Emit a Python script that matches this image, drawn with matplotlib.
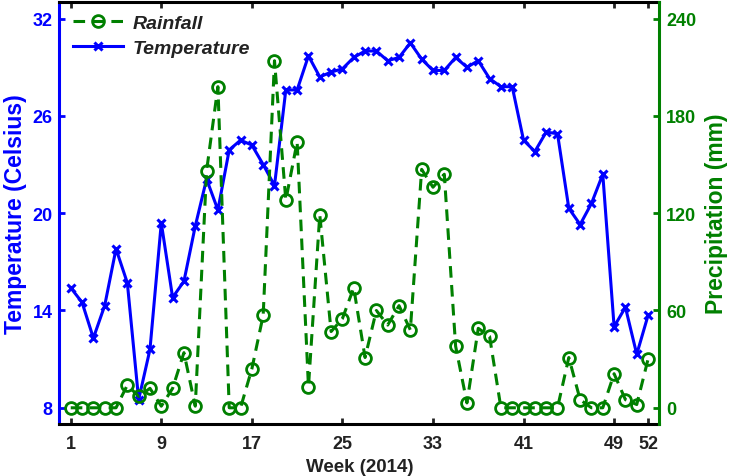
import matplotlib
matplotlib.use("Agg")
import matplotlib.pyplot as plt

plt.rcParams["font.family"] = ["Liberation Sans", "DejaVu Sans"]
plt.rcParams["font.weight"] = "bold"

weeks = list(range(1, 53))
temperature = [15.4, 14.5, 12.3, 14.3, 17.8, 15.7, 8.5, 11.6, 19.4, 14.8,
               15.8, 19.2, 22.1, 20.2, 23.9, 24.5, 24.2, 23.0, 21.7, 27.6,
               27.6, 29.7, 28.4, 28.7, 28.9, 29.6, 30.0, 30.0, 29.4, 29.6,
               30.5, 29.5, 28.8, 28.8, 29.6, 29.0, 29.4, 28.3, 27.8, 27.8,
               24.5, 23.8, 25.0, 24.9, 20.3, 19.3, 20.6, 22.4, 13.0, 14.2,
               11.3, 13.7]
rainfall = [0, 0, 0, 0, 0, 14, 7, 12, 1, 12,
            34, 1, 146, 198, 0, 0, 24, 57, 214, 128,
            164, 13, 119, 47, 55, 74, 31, 60, 51, 63,
            48, 147, 136, 144, 38, 3, 49, 44, 0, 0,
            0, 0, 0, 0, 31, 5, 0, 0, 21, 5,
            2, 30]

blue = (0, 0, 1)
green = (0, 0.5, 0)

fig = plt.figure(figsize=(7.29, 4.77), dpi=100)
ax = fig.add_axes([0.0815, 0.109, 0.823, 0.884])
ax2 = ax.twinx()

l1, = ax.plot(weeks, temperature, color=blue, lw=2.2, marker="x",
              ms=6, mew=2.2, label="Temperature")
l2, = ax2.plot(weeks, rainfall, color=green, lw=2.2, ls="--",
               dashes=(3.8, 2.4), marker="o", ms=8.5, mew=2,
               mfc="none", label="Rainfall")

ax.set_xlim(0, 53)
ax.set_ylim(7, 33)
ax2.set_ylim(-10, 250)
ax.set_xticks([1, 9, 17, 25, 33, 41, 49, 52])
ax.set_yticks([8, 14, 20, 26, 32])
ax2.set_yticks([0, 60, 120, 180, 240])

ax.tick_params(axis="x", direction="in", top=True, length=4, width=2,
               labelsize=13, pad=8, colors="#222222")
ax.tick_params(axis="y", direction="in", right=False, length=4, width=2,
               labelsize=13, pad=5, colors=blue)
ax2.tick_params(axis="y", direction="in", length=4, width=2,
                labelsize=13, pad=5, colors=green)

ax.spines["right"].set_visible(False)
ax.spines["left"].set_color(blue)
for s in ["left", "top", "bottom"]:
    ax.spines[s].set_linewidth(2.2)
for s in ["left", "top", "bottom"]:
    ax2.spines[s].set_visible(False)
ax2.spines["right"].set_color(green)
ax2.spines["right"].set_linewidth(2.2)

ax.set_xlabel("Week (2014)", fontsize=13.5, fontweight="bold",
              color="#222222", labelpad=4)
ax.set_ylabel("Temperature (Celsius)", fontsize=16.5, fontweight="bold",
              color=blue, labelpad=4)
ax2.set_ylabel("Precipitation (mm)", fontsize=16.5, fontweight="bold",
               color=green, labelpad=6)

leg = ax2.legend([l2, l1], ["Rainfall", "Temperature"], loc="upper left",
                 bbox_to_anchor=(0.022, 0.971), frameon=False,
                 borderaxespad=0, borderpad=0, handlelength=2.6,
                 handletextpad=0.5, labelspacing=0.35,
                 prop={"size": 14, "weight": "bold", "style": "italic"})
for t in leg.get_texts():
    t.set_color("#222222")

fig.savefig("out.png", dpi=100)
